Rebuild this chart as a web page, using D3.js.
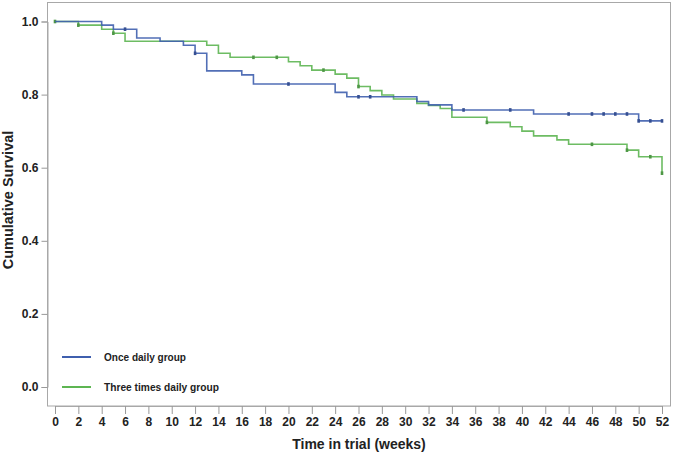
<!DOCTYPE html>
<html><head><meta charset="utf-8">
<script src="https://d3js.org/d3.v7.min.js"></script>
<style>body{margin:0;background:#fff}svg{display:block}text{font-family:"Liberation Sans",Arial,sans-serif}</style>
</head><body><svg id="c" width="673" height="453"></svg>
<script>
const xTicks = d3.range(0, 53, 2);
const yTicks = [0.0, 0.2, 0.4, 0.6, 0.8, 1.0];
const seriesNames = ["Once daily group", "Three times daily group"];
const onceTimes = [0, 4, 5, 7, 9, 11, 12, 13, 16, 17, 24, 25, 31, 32, 34, 41, 50];
const onceSurv  = [1.0, 0.990, 0.979, 0.955, 0.946, 0.935, 0.913, 0.865, 0.854, 0.829, 0.806, 0.794, 0.781, 0.772, 0.758, 0.747, 0.728];
const onceCensor = [6, 12, 20, 26, 27, 35, 39, 44, 46, 47, 48, 49, 50, 51, 52];
const threeTimes = [0, 2, 4, 5, 6, 13, 14, 15, 20, 21, 22, 24, 25, 26, 27, 28, 29, 31, 32, 33, 34, 37, 39, 40, 41, 43, 44, 49, 50, 52];
const threeSurv  = [1.0, 0.990, 0.979, 0.968, 0.946, 0.935, 0.913, 0.902, 0.890, 0.879, 0.867, 0.856, 0.845, 0.822, 0.811, 0.799, 0.788, 0.776, 0.770, 0.762, 0.738, 0.724, 0.712, 0.700, 0.687, 0.676, 0.664, 0.648, 0.630, 0.585];
const threeCensor = [0, 2, 5, 17, 19, 23, 26, 37, 46, 49, 51, 52];
const endTime = 52;

const colors = ["#3f5fae", "#5db552"];
const svg = d3.select("#c");
const x = d3.scaleLinear().domain([0, 52]).range([55, 662]);
const y = d3.scaleLinear().domain([0, 1]).range([387, 21.5]);

// frame
svg.append("rect").attr("x", 47.5).attr("y", 2.5).attr("width", 623).attr("height", 403.5)
  .attr("fill", "#fff").attr("stroke", "#a8a8a8").attr("stroke-width", 1);

// axes
const xAxis = svg.append("g").attr("transform", "translate(0,406)")
  .call(d3.axisBottom(x).tickValues(xTicks).tickSize(8).tickPadding(3).tickFormat(d3.format("d")));
const yAxis = svg.append("g").attr("transform", "translate(47.5,0)")
  .call(d3.axisLeft(y).tickValues(yTicks).tickSize(6).tickPadding(3).tickFormat(d3.format(".1f")));
[xAxis, yAxis].forEach(g => {
  g.select(".domain").attr("stroke", "#a8a8a8");
  g.selectAll(".tick line").attr("stroke", "#999");
  g.selectAll(".tick text").attr("fill", "#222").attr("font-size", 12).attr("font-weight", "bold");
});

function stepData(times, surv) {
  const pts = [];
  times.forEach((t, i) => {
    if (i > 0) pts.push([t, surv[i - 1]]);
    pts.push([t, surv[i]]);
  });
  pts.push([endTime, surv[surv.length - 1]]);
  return pts;
}
function survAt(times, surv, t) {
  let s = surv[0];
  times.forEach((tt, i) => { if (tt <= t) s = surv[i]; });
  return s;
}
const line = d3.line().x(d => x(d[0])).y(d => y(d[1]));
const groups = [
  {times: onceTimes, surv: onceSurv, cens: onceCensor},
  {times: threeTimes, surv: threeSurv, cens: threeCensor}
];
[1, 0].forEach(k => {
  const g = groups[k];
  svg.append("path").attr("d", line(stepData(g.times, g.surv)))
    .attr("fill", "none").attr("stroke", colors[k]).attr("stroke-width", 1.6).attr("opacity", 0.9);
  svg.selectAll(null).data(g.cens).enter().append("rect")
    .attr("x", d => x(d) - 1.3).attr("y", d => y(survAt(g.times, g.surv, d)) - 1.8)
    .attr("width", 2.6).attr("height", 3.6).attr("fill", d3.color(colors[k]).darker(0.5));
});

// legend
seriesNames.forEach((n, i) => {
  const yy = 357 + i * 30;
  svg.append("line").attr("x1", 62).attr("x2", 91).attr("y1", yy).attr("y2", yy)
    .attr("stroke", colors[i]).attr("stroke-width", 2);
  svg.append("text").attr("x", 104).attr("y", yy + 3.5).text(n)
    .attr("font-size", 10).attr("font-weight", "bold").attr("fill", "#222")
    .attr("textLength", i === 0 ? 82 : 115).attr("lengthAdjust", "spacingAndGlyphs");
});

// axis titles
svg.append("text").attr("x", 359).attr("y", 449).attr("text-anchor", "middle")
  .attr("font-size", 14).attr("font-weight", "bold").attr("fill", "#222").text("Time in trial (weeks)");
svg.append("text").attr("transform", "translate(13,200) rotate(-90)").attr("text-anchor", "middle")
  .attr("font-size", 14.5).attr("font-weight", "bold").attr("fill", "#222").text("Cumulative Survival");
</script></body></html>
